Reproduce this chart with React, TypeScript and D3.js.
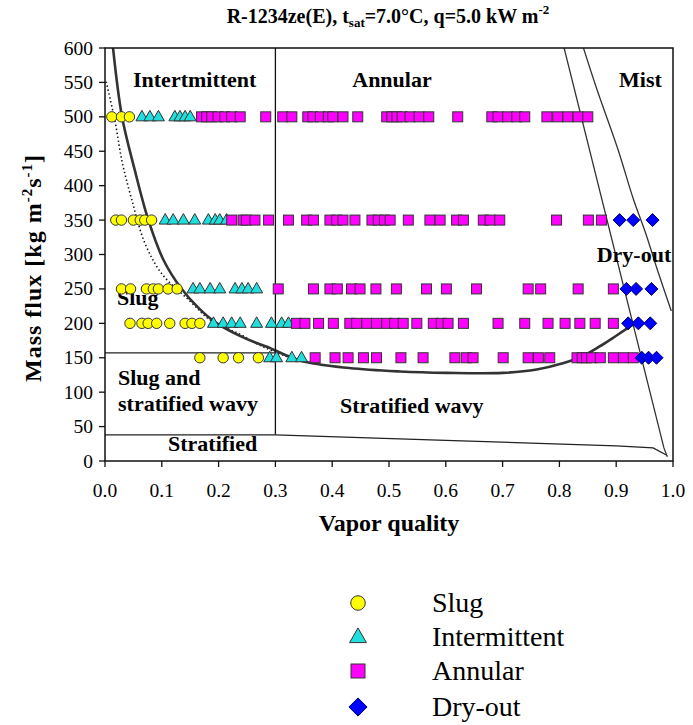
import * as d3 from "d3";

const slugX: Record<number, number[]> = {
  500: [0.012, 0.029, 0.043],
  350: [0.019, 0.029, 0.05, 0.062, 0.07, 0.082],
  250: [0.029, 0.045, 0.073, 0.085, 0.094, 0.111, 0.127],
  200: [0.044, 0.065, 0.076, 0.091, 0.114, 0.141, 0.153, 0.167],
  150: [0.167, 0.208, 0.235, 0.27],
};
const intermittentX: Record<number, number[]> = {
  500: [0.065, 0.079, 0.094, 0.123, 0.132, 0.141, 0.15],
  350: [0.106, 0.12, 0.138, 0.158, 0.182, 0.194, 0.202, 0.214],
  250: [0.155, 0.167, 0.185, 0.202, 0.229, 0.241, 0.252, 0.267],
  200: [0.191, 0.208, 0.223, 0.238, 0.267, 0.293, 0.311, 0.323],
  150: [0.29, 0.302, 0.329, 0.346],
};
const annularX: Record<number, number[]> = {
  500: [0.17, 0.179, 0.188, 0.199, 0.211, 0.223, 0.238, 0.283, 0.313, 0.329, 0.357, 0.366, 0.379, 0.393, 0.401, 0.419, 0.445, 0.496, 0.505, 0.514, 0.523, 0.537, 0.553, 0.57, 0.621, 0.681, 0.692, 0.709, 0.725, 0.739, 0.778, 0.797, 0.815, 0.833, 0.85],
  350: [0.223, 0.243, 0.249, 0.264, 0.288, 0.323, 0.355, 0.367, 0.396, 0.408, 0.419, 0.44, 0.47, 0.481, 0.492, 0.502, 0.534, 0.572, 0.59, 0.619, 0.631, 0.666, 0.678, 0.695, 0.795, 0.851, 0.874],
  250: [0.305, 0.367, 0.396, 0.409, 0.434, 0.449, 0.477, 0.513, 0.566, 0.601, 0.654, 0.745, 0.767, 0.833, 0.895],
  200: [0.337, 0.352, 0.376, 0.402, 0.431, 0.443, 0.461, 0.478, 0.496, 0.51, 0.525, 0.549, 0.578, 0.592, 0.604, 0.631, 0.692, 0.739, 0.78, 0.81, 0.836, 0.863, 0.895],
  150: [0.37, 0.405, 0.428, 0.455, 0.478, 0.521, 0.56, 0.616, 0.636, 0.648, 0.701, 0.745, 0.763, 0.783, 0.831, 0.84, 0.848, 0.857, 0.872, 0.895, 0.913, 0.93],
};
const dryoutX: Record<number, number[]> = {
  350: [0.906, 0.93, 0.964],
  250: [0.918, 0.935, 0.962],
  200: [0.921, 0.939, 0.96],
  150: [0.945, 0.957, 0.971],
};

// transition curves [x, G]
const annularSwCurve: [number, number][] = [
  [0.014, 601], [0.03, 500], [0.052, 424], [0.076, 351], [0.103, 292], [0.133, 252],
  [0.165, 222], [0.195, 201], [0.25, 177], [0.285, 166], [0.343, 146], [0.43, 135],
  [0.519, 130], [0.602, 128], [0.7, 128], [0.76, 133], [0.806, 142], [0.84, 152],
  [0.87, 166], [0.9, 182], [0.92, 193], [0.935, 201],
];
const slugSwCurve: [number, number][] = [
  [0.002, 551], [0.018, 492], [0.03, 435], [0.047, 380], [0.07, 317], [0.1, 272],
  [0.15, 232], [0.185, 205], [0.238, 184], [0.273, 168], [0.32, 152], [0.36, 143],
];
const intermittentLine: [number, number][] = [[0.3, 600], [0.3, 38]];
const slugLine: [number, number][] = [[0, 157], [0.3, 157]];
const stratifiedLine: [number, number][] = [
  [0, 38], [0.3, 38], [0.45, 34], [0.6, 30], [0.75, 26], [0.9, 22], [0.965, 19], [0.99, 8],
];
const dryoutLine: [number, number][] = [[0.808, 601], [0.984, 19], [0.99, 6]];
const mistLine: [number, number][] = [
  [0.842, 601], [0.866, 540], [0.903, 453], [0.93, 381], [0.951, 333], [0.972, 279], [0.997, 218],
];

const regimes = [
  { name: "Slug", shape: "circle", fill: "#ffff00", data: slugX },
  { name: "Intermittent", shape: "triangle", fill: "#1fdede", data: intermittentX },
  { name: "Annular", shape: "square", fill: "#ff00ff", data: annularX },
  { name: "Dry-out", shape: "diamond", fill: "#0000ff", data: dryoutX },
];

const xTicks = d3.range(0, 1.0001, 0.1);
const yTicks = d3.range(0, 601, 50);

const FONT = "Liberation Serif, Times New Roman, DejaVu Serif, serif";

const x = d3.scaleLinear().domain([0, 1]).range([105, 673]);
const y = d3.scaleLinear().domain([0, 600]).range([461, 48]);

const line = d3
  .line<[number, number]>()
  .x((d) => x(d[0]))
  .y((d) => y(d[1]));
const smooth = d3
  .line<[number, number]>()
  .x((d) => x(d[0]))
  .y((d) => y(d[1]))
  .curve(d3.curveCatmullRom.alpha(0.5));

function Marker({ shape, fill, cx, cy, s = 1 }: { shape: string; fill: string; cx: number; cy: number; s?: number }) {
  const stroke = "#333";
  if (shape === "circle")
    return <circle cx={cx} cy={cy} r={5.2 * s} fill={fill} stroke={stroke} strokeWidth={1} />;
  if (shape === "square")
    return <rect x={cx - 5 * s} y={cy - 5 * s} width={10 * s} height={10 * s} fill={fill} stroke={stroke} strokeWidth={1} />;
  if (shape === "triangle")
    return (
      <path
        transform={`translate(${cx},${cy})`}
        d={`M0,${-6.5 * s}L${6 * s},${4 * s}L${-6 * s},${4 * s}Z`}
        fill={fill}
        stroke={stroke}
        strokeWidth={1}
      />
    );
  return (
    <path
      transform={`translate(${cx},${cy})`}
      d={`M0,${-6.5 * s}L${6.5 * s},0L0,${6.5 * s}L${-6.5 * s},0Z`}
      fill={fill}
      stroke="#000066"
      strokeWidth={1}
    />
  );
}

export default function App() {
  const legendY = [603, 637, 671, 707];
  return (
    <svg width={693} height={725} style={{ position: "absolute", left: 0, top: 0, background: "#fff", fontFamily: FONT }}>
      <defs>
        <clipPath id="plot">
          <rect x={105} y={48} width={568} height={413} />
        </clipPath>
      </defs>

      {/* title */}
      <text x={388} y={23} textAnchor="middle" fontSize={20} fontWeight="bold">
        R-1234ze(E), t<tspan dy={4} fontSize={13}>sat</tspan>
        <tspan dy={-4}>=7.0°C, q=5.0 kW m</tspan>
        <tspan dy={-9} fontSize={13}>-2</tspan>
      </text>

      {/* transition lines */}
      <g clipPath="url(#plot)" fill="none">
        <path d={smooth(slugSwCurve)!} stroke="#111" strokeWidth={1.6} strokeDasharray="1.4,2.6" />
        <path d={smooth(annularSwCurve)!} stroke="#333" strokeWidth={2.6} />
        <path d={line(intermittentLine)!} stroke="#111" strokeWidth={1.3} />
        <path d={line(slugLine)!} stroke="#222" strokeWidth={1.2} />
        <path d={line(stratifiedLine)!} stroke="#222" strokeWidth={1.2} />
        <path d={line(dryoutLine)!} stroke="#333" strokeWidth={1.3} />
        <path d={smooth(mistLine)!} stroke="#333" strokeWidth={1.3} />
      </g>

      {/* region labels */}
      <g fontWeight="bold" fontSize={22}>
        <text x={133} y={87}>Intertmittent</text>
        <text x={392} y={87} textAnchor="middle">Annular</text>
        <text x={619} y={87}>Mist</text>
        <text x={634} y={262} textAnchor="middle">Dry-out</text>
        <text x={117} y={305}>Slug</text>
        <text x={118} y={385}>Slug and</text>
        <text x={118} y={411}>stratified wavy</text>
        <text x={340} y={413}>Stratified wavy</text>
        <text x={168} y={451}>Stratified</text>
      </g>

      {/* data */}
      {regimes.map((r) => (
        <g key={r.name}>
          {Object.entries(r.data).flatMap(([g, xs]) =>
            xs.map((q, i) => (
              <Marker key={`${g}-${i}`} shape={r.shape} fill={r.fill} cx={x(q)} cy={y(+g)} />
            ))
          )}
        </g>
      ))}

      {/* frame */}
      <rect x={105} y={48} width={568} height={413} fill="none" stroke="#111" strokeWidth={1.5} />

      {/* y axis */}
      {yTicks.map((t) => (
        <g key={t}>
          <line x1={99} x2={105} y1={y(t)} y2={y(t)} stroke="#111" strokeWidth={1.3} />
          <text x={93} y={y(t) + 6.5} textAnchor="end" fontSize={19.5}>
            {t}
          </text>
        </g>
      ))}
      {/* x axis */}
      {xTicks.map((t) => (
        <g key={t}>
          <line x1={x(t)} x2={x(t)} y1={461} y2={467} stroke="#111" strokeWidth={1.3} />
          <text x={x(t)} y={497} textAnchor="middle" fontSize={19.5}>
            {d3.format(".1f")(t)}
          </text>
        </g>
      ))}

      <text x={389} y={531} textAnchor="middle" fontSize={24} fontWeight="bold">
        Vapor quality
      </text>
      <text transform="translate(41,268) rotate(-90)" textAnchor="middle" fontSize={24} fontWeight="bold" letterSpacing={1}>
        Mass flux [kg m<tspan dy={-9} fontSize={15}>-2</tspan>
        <tspan dy={9}>s</tspan>
        <tspan dy={-9} fontSize={15}>-1</tspan>
        <tspan dy={9}>]</tspan>
      </text>

      {/* legend */}
      {regimes.map((r, i) => (
        <g key={r.name}>
          <Marker shape={r.shape} fill={r.fill} cx={358} cy={legendY[i]} s={1.4} />
          <text x={432} y={legendY[i] + 9} fontSize={28}>
            {r.name}
          </text>
        </g>
      ))}
    </svg>
  );
}
